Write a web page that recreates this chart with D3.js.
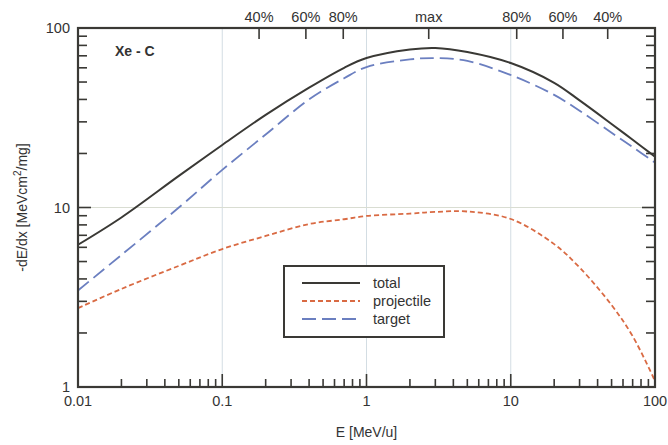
<!DOCTYPE html>
<html>
<head>
<meta charset="utf-8">
<script src="https://cdn.jsdelivr.net/npm/d3@7"></script>
<style>
  body { margin: 0; background: #fff; }
  svg { display: block; font-family: "Liberation Sans", Arial, sans-serif; }
</style>
</head>
<body>
<div id="chart"></div>
<script>
// energies in MeV/u
const energies = [0.01, 0.02, 0.05, 0.1, 0.2, 0.4, 0.7, 1, 2, 3, 5, 10, 20, 30, 50, 70, 100];
const total = [6.2, 8.8, 15, 22.3, 32.8, 46.5, 60, 68, 75.9, 77.4, 73.5, 63.8, 49.5, 39.5, 29.2, 23.85, 19.2];
const projectile = [2.75, 3.52, 4.73, 5.87, 6.94, 8.09, 8.6, 8.97, 9.25, 9.45, 9.5, 8.63, 6.25, 4.63, 2.86, 1.92, 1.08];
const target = [3.45, 5.44, 10, 16.2, 25.5, 40, 52.5, 60.6, 66.8, 68, 65.5, 54.7, 42.4, 34.6, 26.1, 21.7, 17.8];

// top axis: fraction of max stopping
const topTicks = [0.18, 0.38, 0.69, 2.7, 11, 23, 47];
const topLabels = ["40%", "60%", "80%", "max", "80%", "60%", "40%"];

const xMajor = [0.01, 0.1, 1, 10, 100];
const xLabels = ["0.01", "0.1", "1", "10", "100"];
const yMajor = [1, 10, 100];
const yLabels = ["1", "10", "100"];

const width = 668, height = 445;
const margin = { top: 28, right: 13, bottom: 58, left: 78 };
const ink = "#3a3935";

const svg = d3.select("#chart").append("svg")
  .attr("width", width)
  .attr("height", height);

const x = d3.scaleLog().domain([0.01, 100]).range([margin.left, width - margin.right]);
const y = d3.scaleLog().domain([1, 100]).range([height - margin.bottom, margin.top]);

// minor tick values 2..9 per decade
const minor = (lo, hi) => {
  const out = [];
  for (let d = lo; d < hi; d *= 10) for (let k = 2; k <= 9; k++) out.push(d * k);
  return out;
};
const xMinor = minor(0.01, 100);
const yMinor = minor(1, 100);

// grid lines
svg.append("g")
  .selectAll("line")
  .data([0.1, 1, 10])
  .join("line")
  .attr("x1", d => x(d)).attr("x2", d => x(d))
  .attr("y1", y(100)).attr("y2", y(1))
  .attr("stroke", "#d3dde3")
  .attr("stroke-width", 1);

svg.append("line")
  .attr("x1", x(0.01)).attr("x2", x(100))
  .attr("y1", y(10)).attr("y2", y(10))
  .attr("stroke", "#d9ddd2")
  .attr("stroke-width", 1);

// curves
const line = d3.line()
  .x(d => x(d[0]))
  .y(d => y(d[1]))
  .curve(d3.curveCatmullRom.alpha(0.5));

const series = [
  { name: "total", values: total, color: ink, dash: null, w: 2 },
  { name: "projectile", values: projectile, color: "#d96a43", dash: "5,3", w: 1.8 },
  { name: "target", values: target, color: "#6b7fc0", dash: "14,6", w: 1.8 },
];

series.forEach(s => {
  svg.append("path")
    .datum(energies.map((e, i) => [e, s.values[i]]))
    .attr("d", line)
    .attr("fill", "none")
    .attr("stroke", s.color)
    .attr("stroke-width", s.w)
    .attr("stroke-dasharray", s.dash);
});

// inward ticks
function ticks(axis, vals, size) {
  const g = svg.append("g");
  if (axis === "bottom") {
    g.selectAll("line").data(vals).join("line")
      .attr("x1", d => x(d)).attr("x2", d => x(d))
      .attr("y1", y(1)).attr("y2", y(1) - size);
  } else if (axis === "top") {
    g.selectAll("line").data(vals).join("line")
      .attr("x1", d => x(d)).attr("x2", d => x(d))
      .attr("y1", y(100)).attr("y2", y(100) + size);
  } else if (axis === "left") {
    g.selectAll("line").data(vals).join("line")
      .attr("x1", x(0.01)).attr("x2", x(0.01) + size)
      .attr("y1", d => y(d)).attr("y2", d => y(d));
  } else {
    g.selectAll("line").data(vals).join("line")
      .attr("x1", x(100)).attr("x2", x(100) - size)
      .attr("y1", d => y(d)).attr("y2", d => y(d));
  }
  g.selectAll("line").attr("stroke", ink).attr("stroke-width", 1.6);
}
ticks("bottom", xMinor, 8);
ticks("bottom", xMajor, 13);
ticks("left", yMinor, 9);
ticks("left", yMajor, 13);
ticks("right", yMinor, 9);
ticks("right", yMajor, 13);
ticks("top", topTicks, 11);

// frame
svg.append("rect")
  .attr("x", x(0.01)).attr("y", y(100))
  .attr("width", x(100) - x(0.01))
  .attr("height", y(1) - y(100))
  .attr("fill", "none")
  .attr("stroke", ink)
  .attr("stroke-width", 2.2);

// tick labels
svg.append("g")
  .selectAll("text")
  .data(xMajor)
  .join("text")
  .attr("x", d => x(d))
  .attr("y", 406)
  .attr("text-anchor", "middle")
  .attr("font-size", 14.5)
  .attr("fill", "#333")
  .text((d, i) => xLabels[i]);

svg.append("g")
  .selectAll("text")
  .data(yMajor)
  .join("text")
  .attr("x", 70)
  .attr("y", d => y(d) + 5)
  .attr("text-anchor", "end")
  .attr("font-size", 14.5)
  .attr("fill", "#333")
  .text((d, i) => yLabels[i]);

svg.append("g")
  .selectAll("text")
  .data(topTicks)
  .join("text")
  .attr("x", d => x(d))
  .attr("y", 22)
  .attr("text-anchor", "middle")
  .attr("font-size", 14.5)
  .attr("fill", "#333")
  .text((d, i) => topLabels[i]);

// axis titles
svg.append("text")
  .attr("x", x(1))
  .attr("y", 437)
  .attr("text-anchor", "middle")
  .attr("font-size", 14)
  .attr("fill", "#333")
  .text("E [MeV/u]");

const yt = svg.append("text")
  .attr("transform", `translate(27, ${y(10) + 0}) rotate(-90)`)
  .attr("text-anchor", "middle")
  .attr("font-size", 14)
  .attr("fill", "#333");
yt.append("tspan").text("-dE/dx [MeVcm");
yt.append("tspan").attr("dy", -6).attr("font-size", 10).text("2");
yt.append("tspan").attr("dy", 6).text("/mg]");

svg.append("text")
  .attr("x", 115)
  .attr("y", 56)
  .attr("font-size", 14)
  .attr("font-weight", "bold")
  .attr("fill", "#333")
  .text("Xe - C");

// legend
const legend = svg.append("g").attr("transform", "translate(284, 266)");
legend.append("rect")
  .attr("width", 160).attr("height", 71)
  .attr("fill", "#fff")
  .attr("stroke", ink)
  .attr("stroke-width", 2);

series.forEach((s, i) => {
  const ly = 17 + i * 18;
  legend.append("line")
    .attr("x1", 18).attr("x2", 76)
    .attr("y1", ly).attr("y2", ly)
    .attr("stroke", s.color)
    .attr("stroke-width", s.w)
    .attr("stroke-dasharray", s.dash);
  legend.append("text")
    .attr("x", 89)
    .attr("y", ly + 5)
    .attr("font-size", 14.5)
    .attr("fill", "#333")
    .text(s.name);
});
</script>
</body>
</html>
